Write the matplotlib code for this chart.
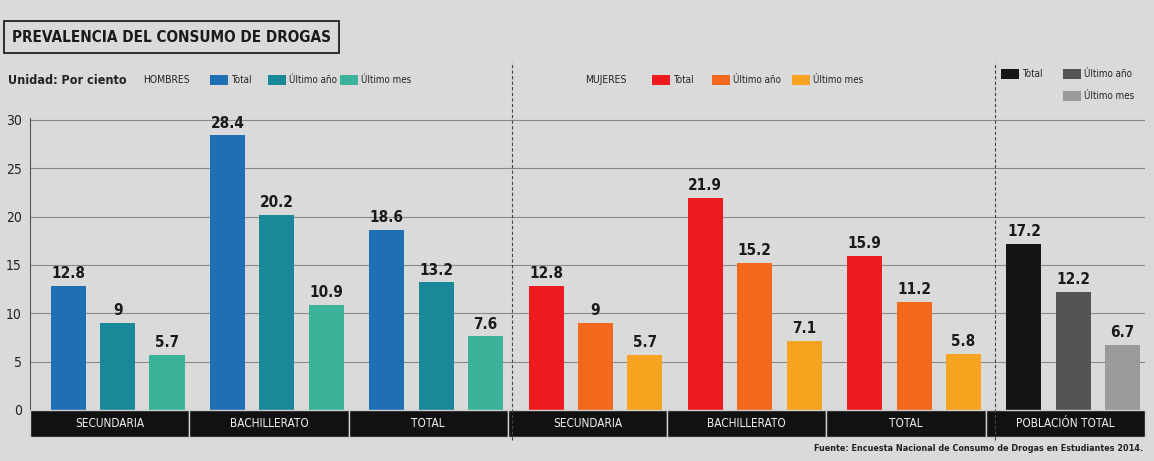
import matplotlib
matplotlib.use("Agg")
import matplotlib.pyplot as plt
from matplotlib import font_manager
from matplotlib.patches import Rectangle
from matplotlib.lines import Line2D
import numpy as np

# data
groups = ["SECUNDARIA", "BACHILLERATO", "TOTAL",
          "SECUNDARIA", "BACHILLERATO", "TOTAL", "POBLACIÓN TOTAL"]
total = [12.8, 28.4, 18.6, 12.8, 21.9, 15.9, 17.2]
ultimo_anio = [9, 20.2, 13.2, 9, 15.2, 11.2, 12.2]
ultimo_mes = [5.7, 10.9, 7.6, 5.7, 7.1, 5.8, 6.7]
series = [total, ultimo_anio, ultimo_mes]
series_labels = ["Total", "Último año", "Último mes"]

hombres_colors = ["#1e6fb4", "#19899a", "#3bb39a"]
mujeres_colors = ["#ee1b1e", "#f46a1c", "#f6a31f"]
total_colors = ["#151515", "#545454", "#9a9a9a"]
group_colors = [hombres_colors] * 3 + [mujeres_colors] * 3 + [total_colors]

BG = "#dadada"

plt.rcParams["font.family"] = ["DejaVu Sans"]
plt.rcParams["font.stretch"] = "condensed"
has_cond = any("Condensed" in f.fname for f in font_manager.fontManager.ttflist)
shrink = 1.0 if has_cond else 0.88

fig = plt.figure(figsize=(11.54, 4.61), dpi=100)
fig.patch.set_facecolor(BG)
ax = fig.add_axes([30 / 1154, 1 - 437 / 461, 1115 / 1154, 319 / 461])
ax.set_facecolor(BG)

x = np.arange(len(groups))
offsets = [-0.31, 0.0, 0.31]
width = 0.22
for k, vals in enumerate(series):
    cols = [c[k] for c in group_colors]
    xs = x + offsets[k] + 0.05
    ax.bar(xs, vals, width, color=cols, zorder=3)
    for xi, v in zip(xs, vals):
        ax.text(xi, v + 0.5, f"{v:g}", ha="center", va="bottom",
                fontsize=11 * shrink, fontweight="bold", color="#1a1a1a", zorder=4)

ax.set_xlim(-0.5, 6.5)
ax.set_ylim(-2.8, 30.2)
ax.set_yticks(range(0, 31, 5))
ax.tick_params(axis="y", length=0, labelsize=10 * shrink, colors="#222222", pad=6)
ax.set_xticks([])
for yv in range(5, 31, 5):
    ax.axhline(yv, color="#8a8a8a", lw=0.8, zorder=1)
for s in ["top", "right", "bottom"]:
    ax.spines[s].set_visible(False)
ax.spines["left"].set_color("#555555")
ax.spines["left"].set_bounds(0, 30.2)

# black category bands
for i, g in enumerate(groups):
    ax.add_patch(Rectangle((i - 0.5, -2.8), 1, 2.8, facecolor="#111111",
                           edgecolor="#cfcfcf", lw=1.0, zorder=5, clip_on=False))
    ax.text(i, -1.4, g, ha="center", va="center", color="#eeeeee",
            fontsize=8.5 * shrink, zorder=6)

# dashed separators
for xp in [512, 995]:
    fig.add_artist(Line2D([xp / 1154] * 2, [1 - 440 / 461, 1 - 62 / 461],
                          color="#444444", lw=0.8, ls=(0, (3, 2))))

# title box
fig.text(12 / 1154, 1 - 37 / 461, "PREVALENCIA DEL CONSUMO DE DROGAS",
         fontsize=11 * shrink, fontweight="bold", color="#1a1a1a", va="center",
         bbox=dict(boxstyle="square,pad=0.55", facecolor=BG, edgecolor="#222222", lw=1.3))

# legend rows
def legend_item(xpx, ypx, color, label):
    fig.add_artist(Rectangle((xpx / 1154, 1 - (ypx + 5) / 461), 18 / 1154, 10 / 461,
                             facecolor=color, edgecolor="none", transform=fig.transFigure))
    fig.text((xpx + 21) / 1154, 1 - ypx / 461, label, fontsize=7 * shrink,
             va="center", color="#222222")

ly = 80
fig.text(8 / 1154, 1 - ly / 461, "Unidad: Por ciento", fontsize=9 * shrink, va="center",
         fontweight="bold", color="#222222")
fig.text(143 / 1154, 1 - ly / 461, "HOMBRES", fontsize=7.5 * shrink, va="center", color="#222222")
for xp, c, l in zip([210, 268, 340], hombres_colors, series_labels):
    legend_item(xp, ly, c, l)
fig.text(585 / 1154, 1 - ly / 461, "MUJERES", fontsize=7.5 * shrink, va="center", color="#222222")
for xp, c, l in zip([652, 712, 792], mujeres_colors, series_labels):
    legend_item(xp, ly, c, l)
legend_item(1001, 74, total_colors[0], series_labels[0])
legend_item(1063, 74, total_colors[1], series_labels[1])
legend_item(1063, 96, total_colors[2], series_labels[2])

fig.text(1143 / 1154, 1 - 448 / 461,
         "Fuente: Encuesta Nacional de Consumo de Drogas en Estudiantes 2014.",
         fontsize=6.5 * shrink, ha="right", va="center", fontweight="bold", color="#222222")

fig.savefig("out.png", dpi=100, facecolor=BG)
